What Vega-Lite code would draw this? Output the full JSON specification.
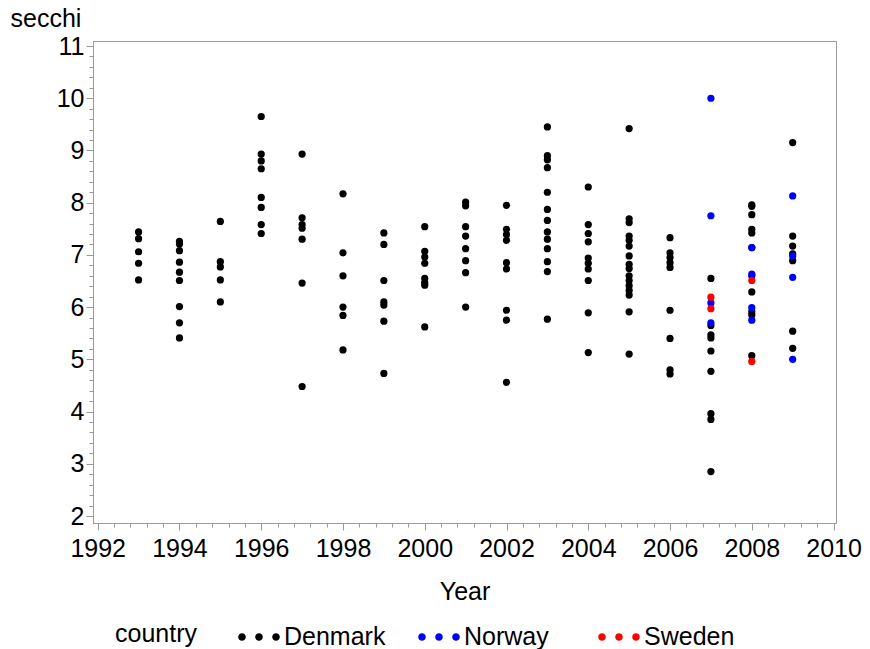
{
  "$schema": "https://vega.github.io/schema/vega-lite/v6.json",
  "autosize": "none",
  "width": 743,
  "height": 482,
  "padding": {"left": 93, "top": 41, "right": 34, "bottom": 126},
  "background": "white",
  "config": {
    "font": "Liberation Sans",
    "view": {"stroke": "#9a9a9a", "strokeWidth": 1}
  },
  "data": {
    "values": [
      {"year": 1993, "secchi": 7.44, "country": "Denmark"},
      {"year": 1993, "secchi": 7.31, "country": "Denmark"},
      {"year": 1993, "secchi": 7.06, "country": "Denmark"},
      {"year": 1993, "secchi": 6.84, "country": "Denmark"},
      {"year": 1993, "secchi": 6.52, "country": "Denmark"},
      {"year": 1994, "secchi": 7.26, "country": "Denmark"},
      {"year": 1994, "secchi": 7.21, "country": "Denmark"},
      {"year": 1994, "secchi": 7.08, "country": "Denmark"},
      {"year": 1994, "secchi": 6.86, "country": "Denmark"},
      {"year": 1994, "secchi": 6.67, "country": "Denmark"},
      {"year": 1994, "secchi": 6.51, "country": "Denmark"},
      {"year": 1994, "secchi": 6.01, "country": "Denmark"},
      {"year": 1994, "secchi": 5.70, "country": "Denmark"},
      {"year": 1994, "secchi": 5.41, "country": "Denmark"},
      {"year": 1995, "secchi": 7.64, "country": "Denmark"},
      {"year": 1995, "secchi": 6.87, "country": "Denmark"},
      {"year": 1995, "secchi": 6.77, "country": "Denmark"},
      {"year": 1995, "secchi": 6.52, "country": "Denmark"},
      {"year": 1995, "secchi": 6.10, "country": "Denmark"},
      {"year": 1996, "secchi": 9.65, "country": "Denmark"},
      {"year": 1996, "secchi": 8.93, "country": "Denmark"},
      {"year": 1996, "secchi": 8.80, "country": "Denmark"},
      {"year": 1996, "secchi": 8.65, "country": "Denmark"},
      {"year": 1996, "secchi": 8.10, "country": "Denmark"},
      {"year": 1996, "secchi": 7.91, "country": "Denmark"},
      {"year": 1996, "secchi": 7.58, "country": "Denmark"},
      {"year": 1996, "secchi": 7.41, "country": "Denmark"},
      {"year": 1997, "secchi": 8.93, "country": "Denmark"},
      {"year": 1997, "secchi": 7.71, "country": "Denmark"},
      {"year": 1997, "secchi": 7.58, "country": "Denmark"},
      {"year": 1997, "secchi": 7.51, "country": "Denmark"},
      {"year": 1997, "secchi": 7.30, "country": "Denmark"},
      {"year": 1997, "secchi": 6.46, "country": "Denmark"},
      {"year": 1997, "secchi": 4.48, "country": "Denmark"},
      {"year": 1998, "secchi": 8.17, "country": "Denmark"},
      {"year": 1998, "secchi": 7.04, "country": "Denmark"},
      {"year": 1998, "secchi": 6.60, "country": "Denmark"},
      {"year": 1998, "secchi": 6.00, "country": "Denmark"},
      {"year": 1998, "secchi": 5.84, "country": "Denmark"},
      {"year": 1998, "secchi": 5.18, "country": "Denmark"},
      {"year": 1999, "secchi": 7.42, "country": "Denmark"},
      {"year": 1999, "secchi": 7.20, "country": "Denmark"},
      {"year": 1999, "secchi": 6.51, "country": "Denmark"},
      {"year": 1999, "secchi": 6.10, "country": "Denmark"},
      {"year": 1999, "secchi": 6.04, "country": "Denmark"},
      {"year": 1999, "secchi": 5.73, "country": "Denmark"},
      {"year": 1999, "secchi": 4.73, "country": "Denmark"},
      {"year": 2000, "secchi": 7.54, "country": "Denmark"},
      {"year": 2000, "secchi": 7.07, "country": "Denmark"},
      {"year": 2000, "secchi": 6.96, "country": "Denmark"},
      {"year": 2000, "secchi": 6.84, "country": "Denmark"},
      {"year": 2000, "secchi": 6.55, "country": "Denmark"},
      {"year": 2000, "secchi": 6.47, "country": "Denmark"},
      {"year": 2000, "secchi": 6.42, "country": "Denmark"},
      {"year": 2000, "secchi": 5.62, "country": "Denmark"},
      {"year": 2001, "secchi": 8.01, "country": "Denmark"},
      {"year": 2001, "secchi": 7.94, "country": "Denmark"},
      {"year": 2001, "secchi": 7.54, "country": "Denmark"},
      {"year": 2001, "secchi": 7.36, "country": "Denmark"},
      {"year": 2001, "secchi": 7.12, "country": "Denmark"},
      {"year": 2001, "secchi": 6.89, "country": "Denmark"},
      {"year": 2001, "secchi": 6.66, "country": "Denmark"},
      {"year": 2001, "secchi": 6.00, "country": "Denmark"},
      {"year": 2002, "secchi": 7.95, "country": "Denmark"},
      {"year": 2002, "secchi": 7.49, "country": "Denmark"},
      {"year": 2002, "secchi": 7.39, "country": "Denmark"},
      {"year": 2002, "secchi": 7.28, "country": "Denmark"},
      {"year": 2002, "secchi": 6.85, "country": "Denmark"},
      {"year": 2002, "secchi": 6.73, "country": "Denmark"},
      {"year": 2002, "secchi": 5.94, "country": "Denmark"},
      {"year": 2002, "secchi": 5.75, "country": "Denmark"},
      {"year": 2002, "secchi": 4.56, "country": "Denmark"},
      {"year": 2003, "secchi": 9.45, "country": "Denmark"},
      {"year": 2003, "secchi": 8.90, "country": "Denmark"},
      {"year": 2003, "secchi": 8.82, "country": "Denmark"},
      {"year": 2003, "secchi": 8.67, "country": "Denmark"},
      {"year": 2003, "secchi": 8.20, "country": "Denmark"},
      {"year": 2003, "secchi": 7.87, "country": "Denmark"},
      {"year": 2003, "secchi": 7.66, "country": "Denmark"},
      {"year": 2003, "secchi": 7.44, "country": "Denmark"},
      {"year": 2003, "secchi": 7.30, "country": "Denmark"},
      {"year": 2003, "secchi": 7.12, "country": "Denmark"},
      {"year": 2003, "secchi": 6.87, "country": "Denmark"},
      {"year": 2003, "secchi": 6.68, "country": "Denmark"},
      {"year": 2003, "secchi": 5.77, "country": "Denmark"},
      {"year": 2004, "secchi": 8.30, "country": "Denmark"},
      {"year": 2004, "secchi": 7.58, "country": "Denmark"},
      {"year": 2004, "secchi": 7.41, "country": "Denmark"},
      {"year": 2004, "secchi": 7.25, "country": "Denmark"},
      {"year": 2004, "secchi": 6.94, "country": "Denmark"},
      {"year": 2004, "secchi": 6.84, "country": "Denmark"},
      {"year": 2004, "secchi": 6.73, "country": "Denmark"},
      {"year": 2004, "secchi": 6.51, "country": "Denmark"},
      {"year": 2004, "secchi": 5.89, "country": "Denmark"},
      {"year": 2004, "secchi": 5.13, "country": "Denmark"},
      {"year": 2005, "secchi": 9.42, "country": "Denmark"},
      {"year": 2005, "secchi": 7.69, "country": "Denmark"},
      {"year": 2005, "secchi": 7.62, "country": "Denmark"},
      {"year": 2005, "secchi": 7.36, "country": "Denmark"},
      {"year": 2005, "secchi": 7.28, "country": "Denmark"},
      {"year": 2005, "secchi": 7.17, "country": "Denmark"},
      {"year": 2005, "secchi": 6.98, "country": "Denmark"},
      {"year": 2005, "secchi": 6.82, "country": "Denmark"},
      {"year": 2005, "secchi": 6.74, "country": "Denmark"},
      {"year": 2005, "secchi": 6.60, "country": "Denmark"},
      {"year": 2005, "secchi": 6.51, "country": "Denmark"},
      {"year": 2005, "secchi": 6.41, "country": "Denmark"},
      {"year": 2005, "secchi": 6.32, "country": "Denmark"},
      {"year": 2005, "secchi": 6.23, "country": "Denmark"},
      {"year": 2005, "secchi": 5.91, "country": "Denmark"},
      {"year": 2005, "secchi": 5.10, "country": "Denmark"},
      {"year": 2006, "secchi": 7.33, "country": "Denmark"},
      {"year": 2006, "secchi": 7.04, "country": "Denmark"},
      {"year": 2006, "secchi": 6.95, "country": "Denmark"},
      {"year": 2006, "secchi": 6.85, "country": "Denmark"},
      {"year": 2006, "secchi": 6.76, "country": "Denmark"},
      {"year": 2006, "secchi": 5.94, "country": "Denmark"},
      {"year": 2006, "secchi": 5.40, "country": "Denmark"},
      {"year": 2006, "secchi": 4.80, "country": "Denmark"},
      {"year": 2006, "secchi": 4.72, "country": "Denmark"},
      {"year": 2007, "secchi": 6.55, "country": "Denmark"},
      {"year": 2007, "secchi": 5.65, "country": "Denmark"},
      {"year": 2007, "secchi": 5.47, "country": "Denmark"},
      {"year": 2007, "secchi": 5.41, "country": "Denmark"},
      {"year": 2007, "secchi": 5.16, "country": "Denmark"},
      {"year": 2007, "secchi": 4.77, "country": "Denmark"},
      {"year": 2007, "secchi": 3.96, "country": "Denmark"},
      {"year": 2007, "secchi": 3.85, "country": "Denmark"},
      {"year": 2007, "secchi": 2.85, "country": "Denmark"},
      {"year": 2008, "secchi": 7.96, "country": "Denmark"},
      {"year": 2008, "secchi": 7.93, "country": "Denmark"},
      {"year": 2008, "secchi": 7.77, "country": "Denmark"},
      {"year": 2008, "secchi": 7.49, "country": "Denmark"},
      {"year": 2008, "secchi": 7.42, "country": "Denmark"},
      {"year": 2008, "secchi": 7.14, "country": "Denmark"},
      {"year": 2008, "secchi": 6.60, "country": "Denmark"},
      {"year": 2008, "secchi": 6.29, "country": "Denmark"},
      {"year": 2008, "secchi": 5.91, "country": "Denmark"},
      {"year": 2008, "secchi": 5.85, "country": "Denmark"},
      {"year": 2008, "secchi": 5.07, "country": "Denmark"},
      {"year": 2009, "secchi": 9.15, "country": "Denmark"},
      {"year": 2009, "secchi": 7.36, "country": "Denmark"},
      {"year": 2009, "secchi": 7.17, "country": "Denmark"},
      {"year": 2009, "secchi": 7.02, "country": "Denmark"},
      {"year": 2009, "secchi": 6.89, "country": "Denmark"},
      {"year": 2009, "secchi": 5.54, "country": "Denmark"},
      {"year": 2009, "secchi": 5.21, "country": "Denmark"},
      {"year": 2007, "secchi": 10.0, "country": "Norway"},
      {"year": 2007, "secchi": 7.75, "country": "Norway"},
      {"year": 2007, "secchi": 6.08, "country": "Norway"},
      {"year": 2007, "secchi": 5.70, "country": "Norway"},
      {"year": 2008, "secchi": 7.14, "country": "Norway"},
      {"year": 2008, "secchi": 6.63, "country": "Norway"},
      {"year": 2008, "secchi": 5.99, "country": "Norway"},
      {"year": 2008, "secchi": 5.75, "country": "Norway"},
      {"year": 2009, "secchi": 8.13, "country": "Norway"},
      {"year": 2009, "secchi": 6.98, "country": "Norway"},
      {"year": 2009, "secchi": 6.57, "country": "Norway"},
      {"year": 2009, "secchi": 5.00, "country": "Norway"},
      {"year": 2007, "secchi": 6.19, "country": "Sweden"},
      {"year": 2007, "secchi": 5.97, "country": "Sweden"},
      {"year": 2008, "secchi": 6.51, "country": "Sweden"},
      {"year": 2008, "secchi": 4.96, "country": "Sweden"}
    ]
  },
  "mark": {"type": "point", "filled": true, "shape": "circle", "size": 52, "opacity": 1},
  "encoding": {
    "x": {
      "field": "year",
      "type": "quantitative",
      "scale": {"domain": [1991.885, 2010.06], "nice": false, "zero": false},
      "axis": {
        "title": "Year",
        "titleFontSize": 25,
        "titleFontWeight": "normal",
        "titleColor": "black",
        "titlePadding": 18,
        "labelFontSize": 25,
        "labelColor": "black",
        "labelPadding": 6,
        "labelFlush": false,
        "labelOverlap": false,
        "grid": false,
        "domainColor": "#9a9a9a",
        "tickColor": "#9a9a9a",
        "values": [1992,1992.4,1992.8,1993.2,1993.6,1994,1994.4,1994.8,1995.2,1995.6,1996,1996.4,1996.8,1997.2,1997.6,1998,1998.4,1998.8,1999.2,1999.6,2000,2000.4,2000.8,2001.2,2001.6,2002,2002.4,2002.8,2003.2,2003.6,2004,2004.4,2004.8,2005.2,2005.6,2006,2006.4,2006.8,2007.2,2007.6,2008,2008.4,2008.8,2009.2,2009.6,2010],
        "labelExpr": "abs(datum.value - 2*round(datum.value/2)) < 0.01 ? format(datum.value, 'd') : ''",
        "tickSize": {"condition": {"test": "abs(datum.value - round(datum.value)) < 0.01", "value": 7}, "value": 4}
      }
    },
    "y": {
      "field": "secchi",
      "type": "quantitative",
      "scale": {"domain": [1.866, 11.096], "nice": false, "zero": false},
      "axis": {
        "title": "secchi",
        "titleFontSize": 25,
        "titleFontWeight": "normal",
        "titleColor": "black",
        "titleAngle": 0,
        "titleAlign": "left",
        "titleBaseline": "middle",
        "titleX": -83,
        "titleY": -23,
        "labelFontSize": 25,
        "labelColor": "black",
        "labelPadding": 2,
        "labelFlush": false,
        "labelOverlap": false,
        "grid": false,
        "domainColor": "#9a9a9a",
        "tickColor": "#9a9a9a",
        "values": [2,2.2,2.4,2.6,2.8,3,3.2,3.4,3.6,3.8,4,4.2,4.4,4.6,4.8,5,5.2,5.4,5.6,5.8,6,6.2,6.4,6.6,6.8,7,7.2,7.4,7.6,7.8,8,8.2,8.4,8.6,8.8,9,9.2,9.4,9.6,9.8,10,10.2,10.4,10.6,10.8,11],
        "labelExpr": "abs(datum.value - round(datum.value)) < 0.01 ? format(datum.value, 'd') : ''",
        "tickSize": {"condition": {"test": "abs(datum.value - round(datum.value)) < 0.01", "value": 7}, "value": 4}
      }
    },
    "color": {
      "field": "country",
      "type": "nominal",
      "scale": {"domain": ["Denmark", "Norway", "Sweden"], "range": ["#000000", "#0000ff", "#ff0000"]},
      "legend": {
        "title": "country",
        "orient": "none",
        "legendX": 22,
        "legendY": 576,
        "direction": "horizontal",
        "columns": 3,
        "gridAlign": "all",
        "titleOrient": "left",
        "titleAnchor": "middle",
        "titleBaseline": "middle",
        "titleFontSize": 25,
        "titleFontWeight": "normal",
        "titleColor": "black",
        "titlePadding": 42,
        "labelFontSize": 25,
        "labelColor": "black",
        "labelOffset": 5,
        "columnPadding": 32,
        "symbolType": "M-1.04,0a0.19,0.19 0 1,0 0.38,0a0.19,0.19 0 1,0 -0.38,0Z M-0.19,0a0.19,0.19 0 1,0 0.38,0a0.19,0.19 0 1,0 -0.38,0Z M0.66,0a0.19,0.19 0 1,0 0.38,0a0.19,0.19 0 1,0 -0.38,0Z",
        "symbolSize": 1600,
        "symbolStrokeWidth": 0,
        "symbolOpacity": 1
      }
    }
  }
}
